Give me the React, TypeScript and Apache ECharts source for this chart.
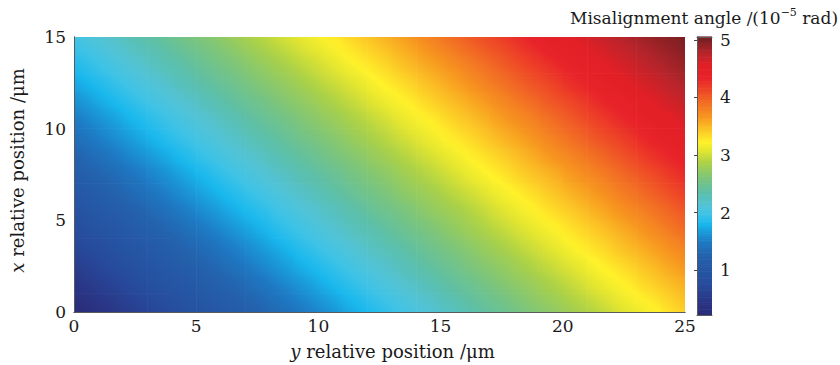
import React, { useEffect, useRef } from "react";
import * as echarts from "echarts";

// cell lower-left corners (µm)
const yStarts = [0, 1, 2, 3, 4, 5, 6, 7, 8, 9, 10, 11, 12, 13, 14, 15, 16, 17, 18, 19, 20, 21, 22, 23, 24];
const xStarts = [0, 1, 2, 3, 4, 5, 6, 7, 8, 9, 10, 11, 12, 13, 14];

// misalignment angle (10^-5 rad), one row per x cell, one column per y cell
const misalignment = [
  [0.36, 0.51, 0.65, 0.79, 0.92, 1.04, 1.17, 1.29, 1.42, 1.55, 1.68, 1.81, 1.93, 2.05, 2.17, 2.29, 2.41, 2.52, 2.64, 2.75, 2.87, 2.99, 3.12, 3.24, 3.37],
  [0.50, 0.64, 0.78, 0.91, 1.03, 1.16, 1.28, 1.41, 1.54, 1.67, 1.80, 1.92, 2.04, 2.16, 2.28, 2.40, 2.51, 2.63, 2.74, 2.86, 2.98, 3.11, 3.23, 3.36, 3.48],
  [0.63, 0.77, 0.89, 1.02, 1.14, 1.27, 1.40, 1.53, 1.66, 1.79, 1.91, 2.03, 2.15, 2.27, 2.39, 2.50, 2.62, 2.73, 2.85, 2.97, 3.09, 3.22, 3.34, 3.47, 3.60],
  [0.75, 0.88, 1.01, 1.13, 1.26, 1.38, 1.51, 1.64, 1.77, 1.90, 2.02, 2.14, 2.26, 2.37, 2.49, 2.60, 2.72, 2.84, 2.96, 3.08, 3.21, 3.33, 3.46, 3.59, 3.72],
  [0.87, 0.99, 1.12, 1.24, 1.37, 1.50, 1.63, 1.76, 1.89, 2.01, 2.13, 2.25, 2.36, 2.48, 2.59, 2.71, 2.83, 2.95, 3.07, 3.19, 3.32, 3.44, 3.57, 3.71, 3.85],
  [0.98, 1.11, 1.23, 1.36, 1.49, 1.62, 1.75, 1.87, 1.99, 2.11, 2.23, 2.35, 2.47, 2.58, 2.70, 2.81, 2.93, 3.06, 3.18, 3.31, 3.43, 3.56, 3.70, 3.83, 3.97],
  [1.09, 1.22, 1.35, 1.48, 1.61, 1.74, 1.86, 1.98, 2.10, 2.22, 2.34, 2.46, 2.57, 2.69, 2.80, 2.92, 3.04, 3.17, 3.29, 3.42, 3.55, 3.68, 3.82, 3.96, 4.10],
  [1.21, 1.33, 1.46, 1.59, 1.72, 1.85, 1.97, 2.09, 2.21, 2.33, 2.44, 2.56, 2.67, 2.79, 2.91, 3.03, 3.16, 3.28, 3.41, 3.53, 3.67, 3.80, 3.94, 4.08, 4.22],
  [1.32, 1.45, 1.58, 1.71, 1.84, 1.96, 2.08, 2.20, 2.32, 2.43, 2.55, 2.66, 2.78, 2.90, 3.02, 3.14, 3.27, 3.39, 3.52, 3.66, 3.79, 3.93, 4.07, 4.21, 4.34],
  [1.44, 1.57, 1.70, 1.83, 1.95, 2.07, 2.19, 2.31, 2.42, 2.54, 2.65, 2.77, 2.89, 3.01, 3.13, 3.26, 3.38, 3.51, 3.64, 3.78, 3.92, 4.06, 4.19, 4.33, 4.45],
  [1.55, 1.68, 1.81, 1.93, 2.05, 2.17, 2.29, 2.41, 2.52, 2.64, 2.75, 2.87, 2.99, 3.12, 3.24, 3.37, 3.49, 3.63, 3.76, 3.90, 4.04, 4.18, 4.31, 4.43, 4.55],
  [1.67, 1.80, 1.92, 2.04, 2.16, 2.28, 2.40, 2.51, 2.63, 2.74, 2.86, 2.98, 3.11, 3.23, 3.36, 3.48, 3.61, 3.75, 3.89, 4.03, 4.16, 4.30, 4.42, 4.54, 4.65],
  [1.79, 1.91, 2.03, 2.15, 2.27, 2.39, 2.50, 2.62, 2.73, 2.85, 2.97, 3.09, 3.22, 3.34, 3.47, 3.60, 3.74, 3.88, 4.02, 4.15, 4.29, 4.41, 4.53, 4.64, 4.75],
  [1.90, 2.02, 2.14, 2.26, 2.37, 2.49, 2.60, 2.72, 2.84, 2.96, 3.08, 3.21, 3.33, 3.46, 3.59, 3.72, 3.86, 4.00, 4.14, 4.27, 4.40, 4.52, 4.63, 4.74, 4.84],
  [2.01, 2.13, 2.25, 2.36, 2.48, 2.59, 2.71, 2.83, 2.95, 3.07, 3.19, 3.32, 3.44, 3.57, 3.71, 3.85, 3.99, 4.12, 4.26, 4.39, 4.51, 4.62, 4.73, 4.83, 4.92],
];

const yTickValues = [0, 5, 10, 15, 20, 25];
const xTickValues = [0, 5, 10, 15];
const colorbarTicks = [1, 2, 3, 4, 5];
const valueMin = 0.22;
const valueMax = 5.05;

// colour map stops [value, colour]
const palette: [number, string][] = [
  [0.22, "#2a2c78"],
  [0.45, "#2a3686"],
  [0.75, "#274a9c"],
  [1.0, "#2556a5"],
  [1.25, "#2462ad"],
  [1.47, "#1e78c2"],
  [1.66, "#1a9ad9"],
  [1.8, "#18b8ee"],
  [1.97, "#3fc3e6"],
  [2.12, "#52c3d6"],
  [2.35, "#5cbfa8"],
  [2.6, "#7dc57a"],
  [2.86, "#abd147"],
  [3.07, "#e2e530"],
  [3.22, "#fff22a"],
  [3.42, "#fcc826"],
  [3.65, "#f7981f"],
  [3.9, "#f26e24"],
  [4.13, "#ee4527"],
  [4.33, "#e8232a"],
  [4.55, "#e21f26"],
  [4.76, "#b8252b"],
  [5.05, "#6c1e20"],
];

function hexToRgb(h: string): number[] {
  const n = parseInt(h.slice(1), 16);
  return [(n >> 16) & 255, (n >> 8) & 255, n & 255];
}

function colorAt(v: number): string {
  if (v <= palette[0][0]) return palette[0][1];
  for (let k = 1; k < palette.length; k++) {
    if (v <= palette[k][0]) {
      const [v0, c0] = palette[k - 1];
      const [v1, c1] = palette[k];
      const t = (v - v0) / (v1 - v0);
      const a = hexToRgb(c0);
      const b = hexToRgb(c1);
      const m = a.map((x, i) => Math.round(x + (b[i] - x) * t));
      return `rgb(${m[0]},${m[1]},${m[2]})`;
    }
  }
  return palette[palette.length - 1][1];
}

// shading of one cell: slope of the read values across the cell, from its neighbours
function cellFill(i: number, j: number) {
  const rows = misalignment.length;
  const cols = misalignment[0].length;
  const v = misalignment[i][j];
  const jl = Math.max(j - 1, 0), jr = Math.min(j + 1, cols - 1);
  const ib = Math.max(i - 1, 0), it = Math.min(i + 1, rows - 1);
  const a = (misalignment[i][jr] - misalignment[i][jl]) / (jr - jl);
  const b = (misalignment[it][j] - misalignment[ib][j]) / (it - ib);
  const n2 = a * a + b * b;
  if (n2 < 1e-9) return colorAt(v);
  const half = (Math.abs(a) + Math.abs(b)) / 2;
  const s = half / n2;
  const x = 0.5 - s * a, y = 0.5 + s * b;
  const x2 = 0.5 + s * a, y2 = 0.5 - s * b;
  const stops = [];
  const N = 4;
  for (let k = 0; k <= N; k++) {
    const t = k / N;
    stops.push({ offset: t, color: colorAt(v - half + 2 * half * t) });
  }
  return { type: "linear", x, y, x2, y2, colorStops: stops, global: false };
}

const FONT = "DejaVu Serif";
const FS = 17;
const FSN = 18;
const TXT = "#1a1a1a";
const FRAME = "#5a5a5a";

export default function App() {
  const ref = useRef<HTMLDivElement>(null);
  useEffect(() => {
    const chart = echarts.init(ref.current!, null, { renderer: "svg" });
    const cells: number[][] = [];
    xStarts.forEach((x, i) => {
      yStarts.forEach((y, j) => {
        cells.push([y, x, misalignment[i][j], i, j]);
      });
    });
    const yEnd = yStarts[yStarts.length - 1] + 1;
    const xEnd = xStarts[xStarts.length - 1] + 1;

    // colour bar levels (legend only)
    const step = 0.03;
    const levels: number[][] = [];
    for (let v = valueMin; v < valueMax - 1e-9; v += step) {
      levels.push([0, v, Math.min(v + step, valueMax)]);
    }

    const frameAxis = {
      type: "value",
      z: 10,
      axisLine: { show: true, lineStyle: { color: FRAME, width: 1 } },
      axisTick: { show: false },
      axisLabel: { show: false },
      splitLine: { show: false },
    };

    chart.setOption({
      animation: false,
      title: {
        text: "Misalignment angle /(10{sup|−5} rad)",
        left: 565,
        top: 2,
        textStyle: {
          fontFamily: FONT,
          fontSize: FS,
          fontWeight: "normal",
          color: TXT,
          lineHeight: 22,
          rich: {
            sup: { fontFamily: FONT, fontSize: 11, color: TXT, verticalAlign: "top", lineHeight: 14 },
          },
        },
      },
      grid: [
        { left: 68, top: 37, width: 617, height: 278 },
        { left: 697, top: 37, width: 15, height: 278 },
      ],
      xAxis: [
        {
          gridIndex: 0,
          type: "value",
          min: 0,
          max: 25,
          interval: 5,
          position: "bottom",
          z: 10,
          axisLine: { show: true, lineStyle: { color: FRAME, width: 1 } },
          axisTick: { show: false },
          splitLine: { show: false },
          axisLabel: {
            fontFamily: FONT,
            fontSize: FS,
            color: TXT,
            margin: 5,
            customValues: yTickValues,
          },
          name: "{i|y} relative position /μm",
          nameLocation: "middle",
          nameGap: 30,
          nameTextStyle: {
            fontFamily: FONT,
            fontSize: FSN,
            color: TXT,
            padding: [0, 0, 0, 26],
            rich: { i: { fontFamily: FONT, fontSize: FSN, fontStyle: "italic", color: TXT } },
          },
        },
        { ...frameAxis, gridIndex: 0, min: 0, max: 25, position: "top" },
        { ...frameAxis, gridIndex: 1, min: 0, max: 1, position: "bottom" },
        { ...frameAxis, gridIndex: 1, min: 0, max: 1, position: "top" },
      ],
      yAxis: [
        {
          gridIndex: 0,
          type: "value",
          min: 0,
          max: 15,
          interval: 5,
          position: "left",
          z: 10,
          axisLine: { show: true, lineStyle: { color: FRAME, width: 1 } },
          axisTick: { show: false },
          splitLine: { show: false },
          axisLabel: {
            fontFamily: FONT,
            fontSize: FS,
            color: TXT,
            margin: 8,
            customValues: xTickValues,
          },
          name: "{i|x} relative position /μm",
          nameLocation: "middle",
          nameGap: 48,
          nameRotate: 90,
          nameTextStyle: {
            fontFamily: FONT,
            fontSize: FSN,
            color: TXT,
            padding: [0, 0, 0, 8],
            rich: { i: { fontFamily: FONT, fontSize: FSN, fontStyle: "italic", color: TXT } },
          },
        },
        { ...frameAxis, gridIndex: 0, min: 0, max: 15, position: "right" },
        {
          gridIndex: 1,
          type: "value",
          min: valueMin,
          max: valueMax,
          position: "right",
          z: 10,
          axisLine: { show: true, lineStyle: { color: FRAME, width: 1 } },
          axisTick: {
            show: true,
            inside: true,
            length: 3,
            customValues: colorbarTicks,
            lineStyle: { color: "#444" },
          },
          splitLine: { show: false },
          axisLabel: {
            fontFamily: FONT,
            fontSize: FS,
            color: TXT,
            margin: 8,
            customValues: colorbarTicks,
          },
        },
        { ...frameAxis, gridIndex: 1, min: valueMin, max: valueMax, position: "left" },
      ],
      series: [
        {
          type: "custom",
          xAxisIndex: 0,
          yAxisIndex: 0,
          data: cells,
          renderItem: (params: any, api: any) => {
            const y0 = api.value(0);
            const x0 = api.value(1);
            const i = api.value(3);
            const j = api.value(4);
            const p0 = api.coord([y0, x0]);
            const p1 = api.coord([y0 + 1, x0 + 1]);
            const extR = y0 + 1 < yEnd ? 0.6 : 0;
            const extT = x0 + 1 < xEnd ? 0.6 : 0;
            return {
              type: "rect",
              shape: {
                x: p0[0],
                y: p1[1] - extT,
                width: p1[0] - p0[0] + extR,
                height: p0[1] - p1[1] + extT,
              },
              style: { fill: cellFill(i, j) },
            };
          },
        },
        {
          type: "custom",
          xAxisIndex: 2,
          yAxisIndex: 2,
          data: levels,
          renderItem: (params: any, api: any) => {
            const lo = api.value(1);
            const hi = api.value(2);
            const p0 = api.coord([0, lo]);
            const p1 = api.coord([1, hi]);
            return {
              type: "rect",
              shape: {
                x: p0[0],
                y: p1[1] - 0.6,
                width: p1[0] - p0[0],
                height: p0[1] - p1[1] + 0.6,
              },
              style: { fill: colorAt((lo + hi) / 2) },
            };
          },
        },
      ],
    });
    return () => chart.dispose();
  }, []);
  return (
    <div
      ref={ref}
      style={{ position: "fixed", left: 0, top: 0, width: 840, height: 365, background: "#fff" }}
    />
  );
}
